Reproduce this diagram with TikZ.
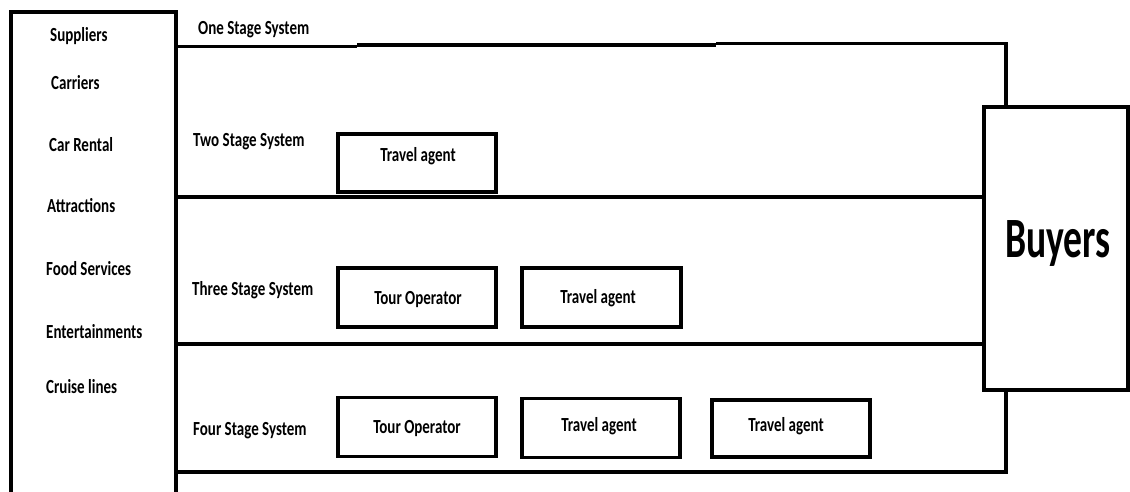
\documentclass[tikz,border=0pt]{standalone}
\usepackage{fontspec}
\setmainfont{Carlito}
\newfontfamily\labelfont{Carlito}[FakeStretch=0.75]
\newfontfamily\bigfont{Carlito}[FakeStretch=0.66]
\begin{document}
\begin{tikzpicture}[x=1pt,y=-1pt,
  rule/.style={line width=3.2pt},
  box/.style={draw, line width=3.2pt, minimum width=158pt, minimum height=58pt,
              inner sep=0pt, outer sep=0pt},
  txt/.style={inner sep=0pt, font=\labelfont\bfseries\fontsize{20}{24}\selectfont},
  item/.style={txt, anchor=base west},
  stage/.style={txt, anchor=base west},
  inbox/.style={txt, anchor=base}]
\useasboundingbox (0,0) rectangle (1130,491);
\clip (0,0) rectangle (1130,491);
\fill[white] (0,0) rectangle (1130,491);

% supplier column (open at the bottom)
\node[draw, line width=3.2pt, minimum width=165pt, minimum height=520pt,
      inner sep=0pt, outer sep=0pt, anchor=north west] (sup) at (11,12) {};
\node[item] at (50,41)  {Suppliers};
\node[item] at (51,89)  {Carriers};
\node[item] at (49,151) {Car Rental};
\node[item] at (47,212) {Attractions};
\node[item] at (46,275) {Food Services};
\node[item] at (46,338) {Entertainments};
\node[item] at (46,393) {Cruise lines};

% buyers
\node[draw, line width=3.2pt, minimum width=144pt, minimum height=283pt,
      inner sep=0pt, outer sep=0pt] (buy) at (1056,248.5) {};
\node[inner sep=0pt, anchor=base, font=\bigfont\bfseries\fontsize{57}{60}\selectfont]
  at (1058,257) {Buyers};

% one stage system
\coordinate (t1) at (176,46.5);
\coordinate (t2) at (357,46.5);
\coordinate (t3) at (357,45);
\coordinate (t4) at (716,45);
\coordinate (t5) at (716,43.5);
\coordinate (t6) at (1006,43.5);
\draw[rule] (t1) -- (t2);
\draw[rule] (t3) -- (t4);
\draw[rule, line join=miter] (t5) -- (t6) -- (t6 |- buy.north);
\node[stage] at (198,34.5) {One Stage System};

% two stage system
\coordinate (l2) at (176,197);
\draw[rule] (l2) -- (l2 -| buy.west);
\node[stage] at (193,146) {Two Stage System};
\node[box] (ta2) at (417,163) {};
\node[inbox] at (418,161) {Travel agent};

% three stage system
\coordinate (l3) at (176,344);
\draw[rule] (l3) -- (l3 -| buy.west);
\node[stage] at (192,295) {Three Stage System};
\node[box, minimum height=59pt] (to3) at (417,297.5) {};
\node[inbox] at (418,304) {Tour Operator};
\node[box, minimum height=59pt, minimum width=159pt] (ta3) at (601.5,297.5) {};
\node[inbox] at (598,303) {Travel agent};

% four stage system
\coordinate (l4) at (176,472);
\coordinate (r4) at (1006,472);
\draw[rule, line join=miter] (l4) -- (r4) -- (r4 |- buy.south);
\node[stage] at (193,435) {Four Stage System};
\node[box, minimum height=59pt] (to4) at (417,427) {};
\node[inbox] at (417,433) {Tour Operator};
\node[box, minimum height=59pt] (ta4a) at (601,428) {};
\node[inbox] at (599,431) {Travel agent};
\node[box, minimum height=57pt] (ta4b) at (791,428.5) {};
\node[inbox] at (786,431) {Travel agent};
\end{tikzpicture}
\end{document}
